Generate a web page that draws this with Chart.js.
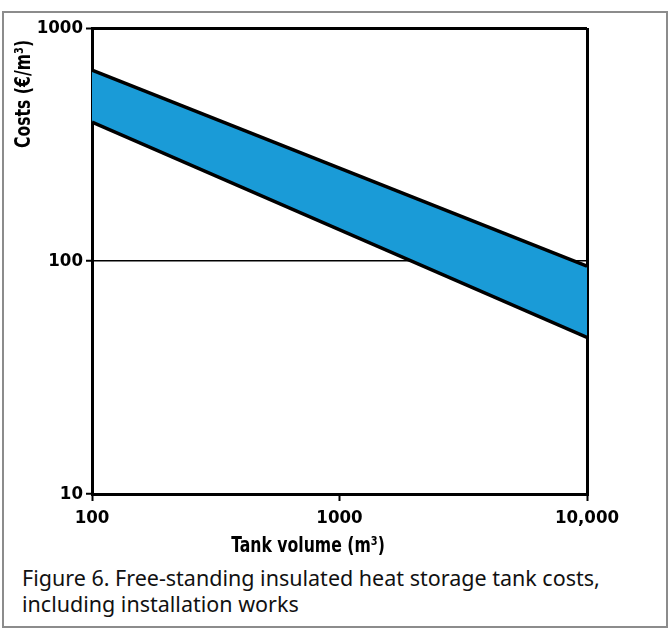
<!DOCTYPE html>
<html>
<head>
<meta charset="utf-8">
<script src="https://cdn.jsdelivr.net/npm/chart.js@4"></script>
<style>
  body { margin: 0; background: #fff; }
  #wrap { position: relative; width: 672px; height: 629px; }
  #frame { position: absolute; left: 2px; top: 11px; width: 662px; height: 613px; border: 2px solid #8c8c8c; }
  #chart { position: absolute; left: 0; top: 0; }
  #caption { position: absolute; left: 22px; top: 565px; font-family: "Noto Sans", "Liberation Sans", sans-serif; font-size: 21.5px; line-height: 26px; color: #111; }
</style>
</head>
<body>
<div id="wrap">
  <div id="frame"></div>
  <canvas id="chart" width="672" height="560"></canvas>
  <div id="caption">Figure 6. Free-standing insulated heat storage tank costs,<br>including installation works</div>
</div>
<script>
let volumes = [100, 10000];
let upperCost = [660, 95];
let lowerCost = [395, 47];
let xTicks = [100, 1000, 10000];
let yTicks = [10, 100, 1000];
let bandColor = '#1a9bd7';
let condensed = '"DejaVu Sans Condensed", "Liberation Sans Narrow", sans-serif';
let labelFont = { family: condensed, weight: 'bold', size: 18.5 };

let toPoints = (ys) => volumes.map((v, i) => ({ x: v, y: ys[i] }));

// axis titles drawn by hand, squeezed a bit to look like the condensed face of the original
let axisTitles = {
    id: 'axisTitles',
    afterDraw(chart) {
        let c = chart.ctx;
        c.save();
        c.fillStyle = '#000';
        c.font = 'bold 21px ' + condensed;
        c.textBaseline = 'middle';
        c.textAlign = 'center';
        c.save();
        c.translate(308, 547);
        c.scale(0.83, 1);
        c.fillText('Tank volume (m³)', 0, 0);
        c.restore();
        c.translate(25, 94);
        c.rotate(-Math.PI / 2);
        c.scale(0.83, 1);
        c.fillText('Costs (€/m³)', 0, 0);
        c.restore();
    }
};

let chart = new Chart(document.getElementById('chart'), {
    type: 'scatter',
    data: {
        datasets: [{
            data: toPoints(upperCost),
            showLine: true,
            borderColor: '#000',
            borderWidth: 3.5,
            pointRadius: 0,
            fill: false
        }, {
            data: toPoints(lowerCost),
            showLine: true,
            borderColor: '#000',
            borderWidth: 3.5,
            pointRadius: 0,
            backgroundColor: bandColor,
            fill: '-1'
        }]
    },
    options: {
        responsive: false,
        animation: false,
        layout: { padding: { top: 28, right: 85, left: 0, bottom: 0 } },
        plugins: {
            legend: { display: false },
            tooltip: { enabled: false }
        },
        scales: {
            x: {
                type: 'logarithmic',
                min: 100,
                max: 10000,
                afterFit: (scale) => { scale.height = 66; },
                afterBuildTicks: (scale) => { scale.ticks = xTicks.map(v => ({ value: v })); },
                border: { display: true, color: '#000', width: 3 },
                grid: {
                    color: (ctx) => ctx.tick && ctx.tick.value === 10000 ? '#000' : 'rgba(0,0,0,0)',
                    lineWidth: 3,
                    tickColor: '#000',
                    tickWidth: 2,
                    tickLength: 7
                },
                ticks: {
                    color: '#000',
                    font: labelFont,
                    padding: 6,
                    maxRotation: 0,
                    callback: (value) => value === 10000 ? '10,000' : String(value)
                }
            },
            y: {
                type: 'logarithmic',
                min: 10,
                max: 1000,
                afterFit: (scale) => { scale.width = 92; },
                afterBuildTicks: (scale) => { scale.ticks = yTicks.map(v => ({ value: v })); },
                border: { display: true, color: '#000', width: 3 },
                grid: {
                    color: (ctx) => ctx.tick && ctx.tick.value === 10 ? 'rgba(0,0,0,0)' : '#000',
                    lineWidth: (ctx) => ctx.tick && ctx.tick.value === 1000 ? 3 : 1.5,
                    tickColor: '#000',
                    tickWidth: 2,
                    tickLength: 6
                },
                ticks: {
                    color: '#000',
                    font: labelFont,
                    padding: 3,
                    callback: (value) => String(value)
                }
            }
        }
    },
    plugins: [axisTitles]
});
</script>
</body>
</html>
